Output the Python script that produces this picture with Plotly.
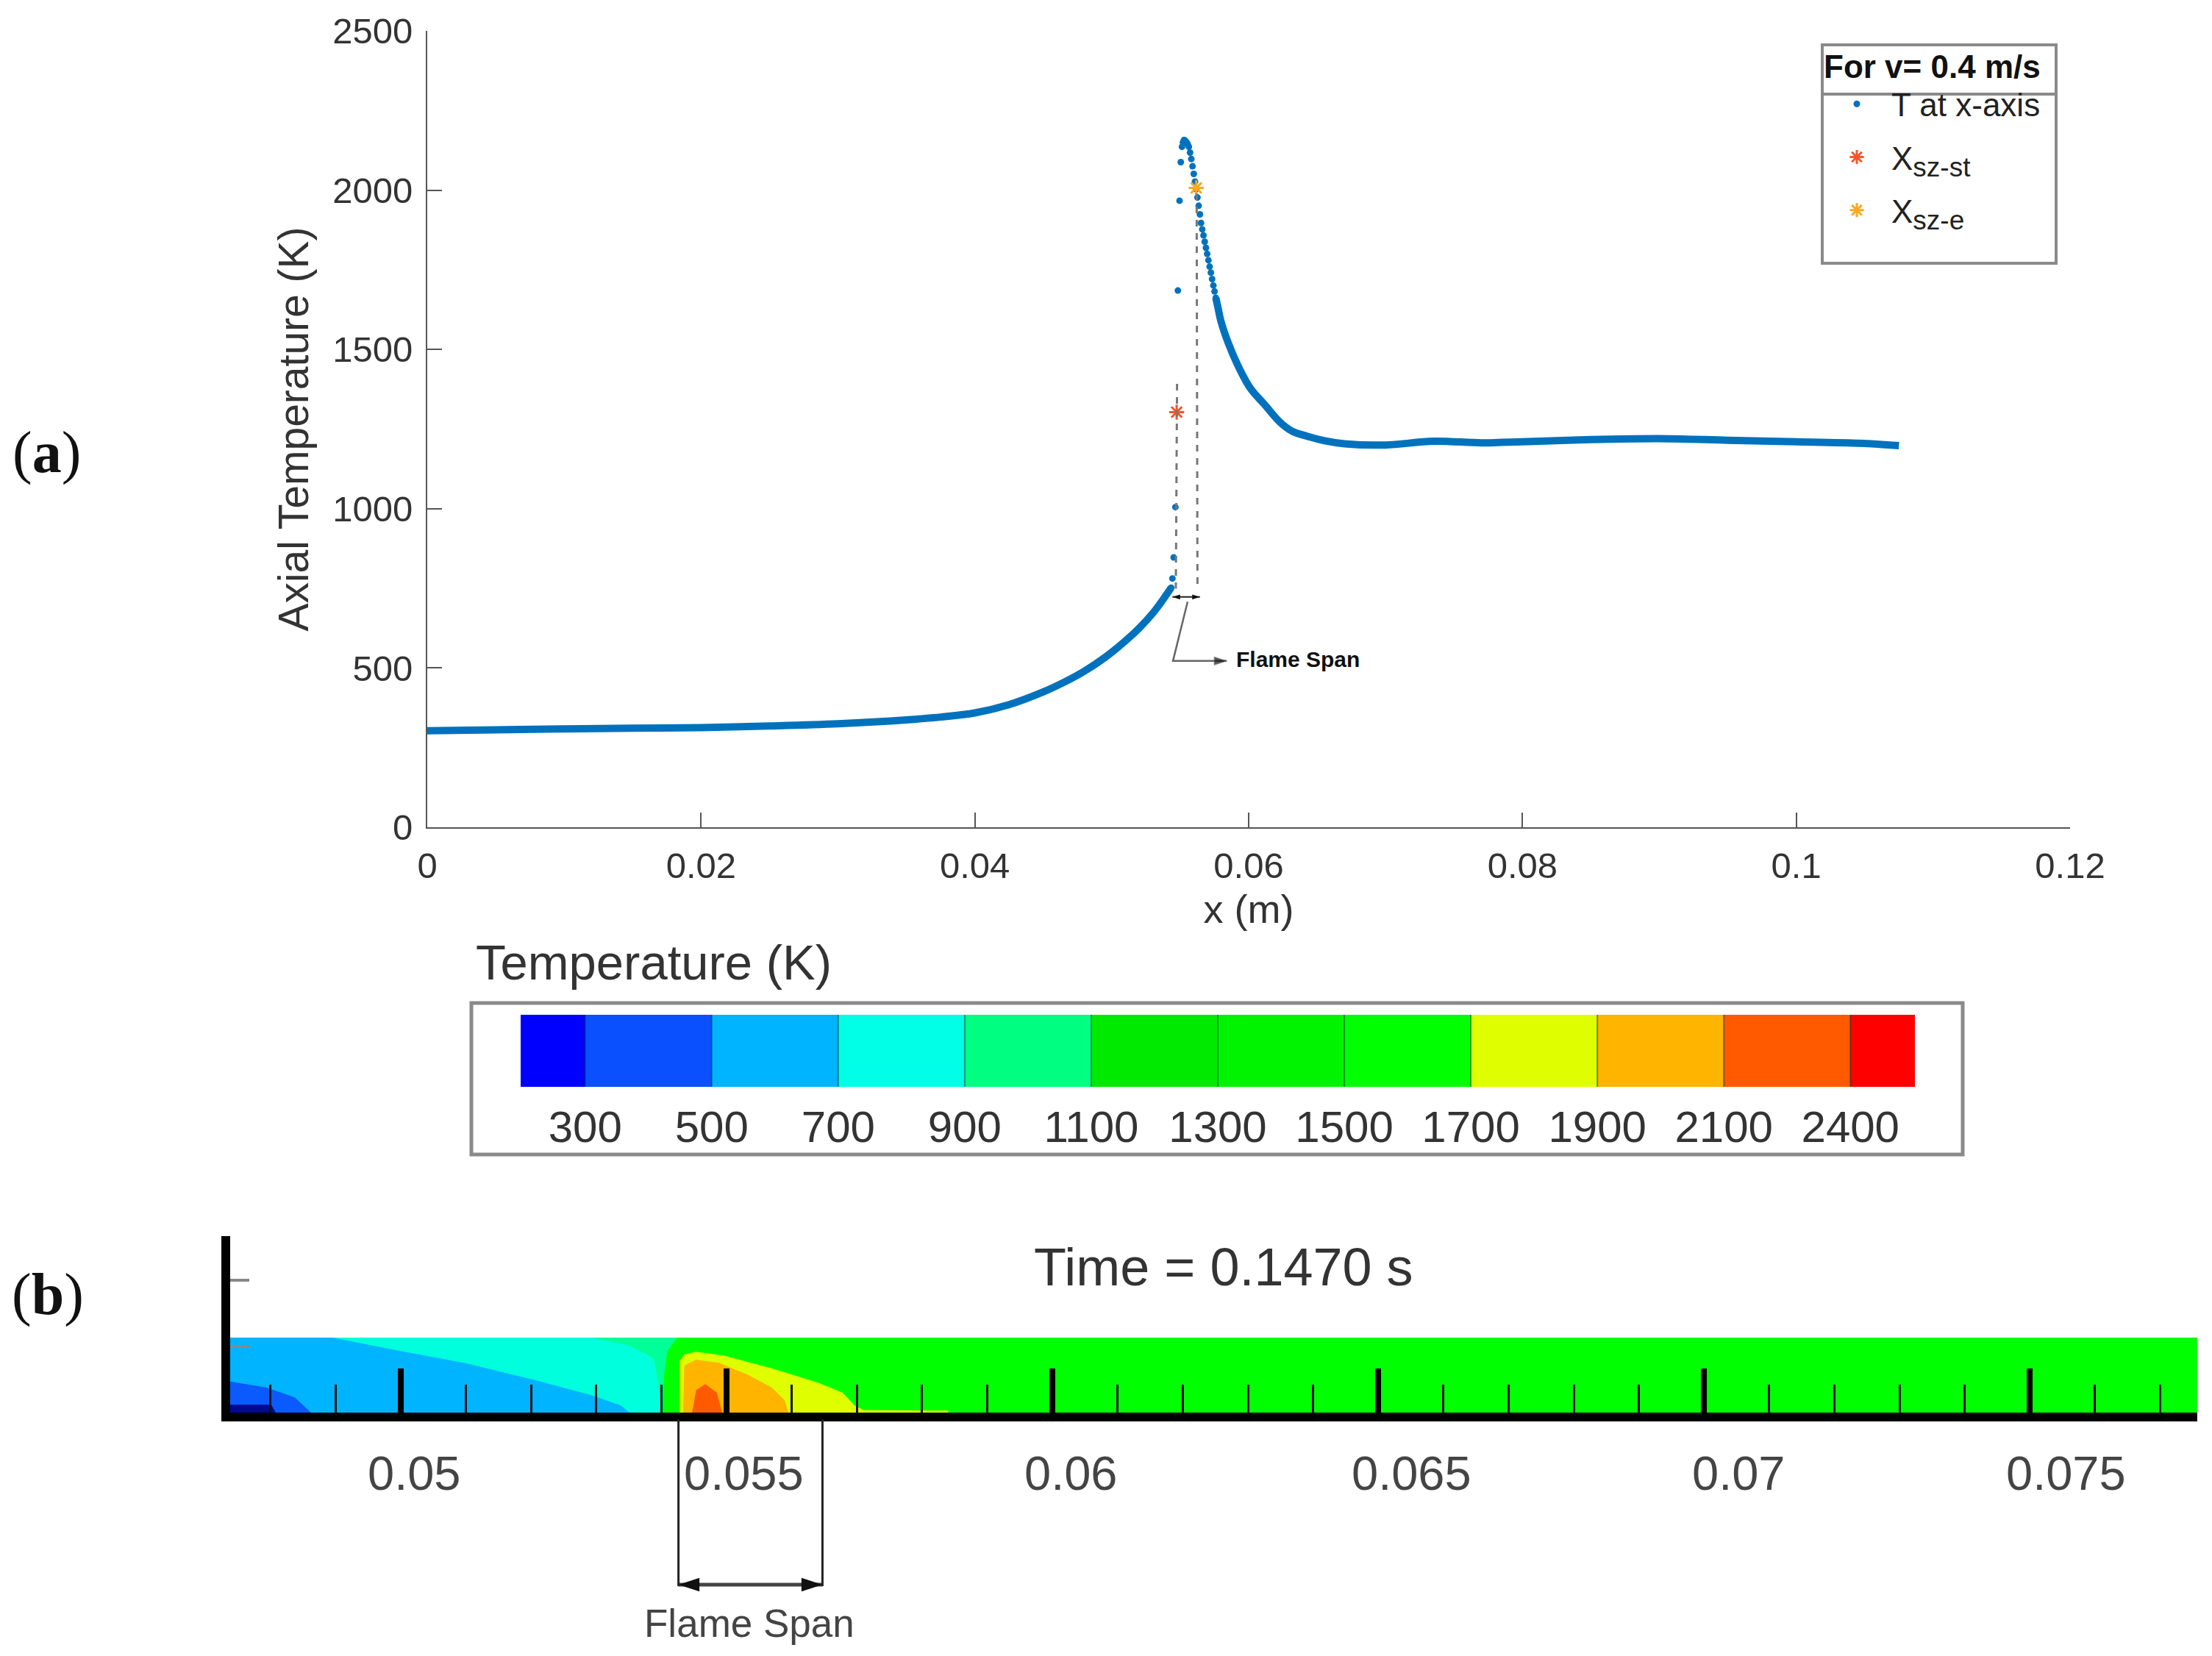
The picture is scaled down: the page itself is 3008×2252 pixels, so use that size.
import plotly.graph_objects as go

W = 3008
H = 2252

# (a) axial temperature
low_x = [0, 0.005, 0.01, 0.015, 0.02, 0.025, 0.03, 0.035, 0.0375, 0.04, 0.0425, 0.045, 0.0465, 0.048, 0.0495, 0.051, 0.052, 0.053, 0.0535, 0.05434]
low_t = [303, 306, 309, 311, 313, 318, 325, 337, 346, 359, 385, 425, 455, 490, 533, 585, 625, 672, 700, 752]
high_x = [0.0576, 0.05778, 0.05796, 0.0585, 0.05921, 0.06011, 0.06118, 0.06226, 0.06315, 0.06423, 0.06548, 0.067, 0.07, 0.0735, 0.077, 0.08, 0.085, 0.09, 0.095, 0.1, 0.105, 0.1075]
high_t = [1662, 1627, 1591, 1521, 1450, 1379, 1326, 1273, 1244, 1228, 1214, 1204, 1200, 1212, 1207, 1210, 1217, 1220, 1215, 1210, 1205, 1198]
dots_x = [0.05434, 0.05443, 0.05452, 0.05465, 0.05483, 0.05495, 0.05504, 0.05513, 0.0552, 0.05527, 0.05536, 0.05545, 0.05554, 0.05563, 0.05572, 0.05581, 0.0559, 0.05599, 0.05608, 0.05617, 0.05626, 0.05635, 0.05644, 0.05652, 0.05661, 0.0567, 0.05679, 0.05688, 0.05697, 0.05706, 0.05715, 0.05724, 0.05733, 0.05742, 0.05751, 0.0576]
dots_t = [752, 781, 847, 1005, 1685, 1967, 2088, 2136, 2150, 2157, 2156, 2151, 2145, 2136, 2118, 2098, 2075, 2051, 2027, 2003, 1977, 1951, 1924, 1897, 1877, 1858, 1838, 1819, 1800, 1780, 1760, 1741, 1721, 1701, 1682, 1662]
sz_st = (0.05474, 1303)
sz_e = (0.05617, 2007)
dash_left_x = [0.05477, 0.05468]
dash_left_t = [1392, 749]
dash_right_x = [0.0562, 0.05626]
dash_right_t = [1990, 749]
span_a_x = [0.05443, 0.05644]
span_a_t = [723, 723]
callout_x = [0.05554, 0.05447, 0.0584]
callout_t = [708, 522, 522]

x_ticks = [0, 0.02, 0.04, 0.06, 0.08, 0.1, 0.12]
x_tick_text = ['0', '0.02', '0.04', '0.06', '0.08', '0.1', '0.12']
t_ticks = [0, 500, 1000, 1500, 2000, 2500]

# colour key
level_labels = ['300', '500', '700', '900', '1100', '1300', '1500', '1700', '1900', '2100', '2400']
level_colors = ['#0000ff', '#0a50ff', '#00b4ff', '#00ffe6', '#00ff80', '#00ea00', '#00f400', '#00ff00', '#dfff00', '#ffb400', '#ff5a00', '#ff0000']

# (b) contour regions, metres along the tube and height units
x_left = 0.04738
x_right = 0.07757
band_top = 1.133
regions = [
    ('#00ff00', [x_left, x_right, x_right, x_left], [0, 0, band_top, band_top]),
    ('#00ff96', [x_left, x_left, 0.05424, 0.05409, 0.05404, 0.05402], [0, band_top, band_top, 0.93, 0.57, 0]),
    ('#00ffdc', [x_left, x_left, 0.05293, 0.05351, 0.05388, 0.05395, 0.05399], [0, band_top, band_top, 1.01, 0.82, 0.45, 0]),
    ('#00b4ff', [x_left, x_left, 0.04895, 0.04989, 0.05098, 0.05207, 0.05293, 0.05337, 0.05351], [0, band_top, band_top, 0.95, 0.75, 0.49, 0.26, 0.11, 0]),
    ('#0a5aff', [x_left, x_left, 0.04793, 0.04837, 0.04862], [0, 0.47, 0.38, 0.23, 0]),
    ('#000a90', [x_left, x_left, 0.04801, 0.04808], [0, 0.12, 0.12, 0]),
    ('#dfff00', [0.05428, 0.05428, 0.05435, 0.05453, 0.05496, 0.05569, 0.05641, 0.05678, 0.05696, 0.0571, 0.0584, 0.0584], [0, 0.78, 0.88, 0.92, 0.86, 0.67, 0.45, 0.3, 0.11, 0.04, 0.03, 0]),
    ('#ffb400', [0.05433, 0.05435, 0.05453, 0.05489, 0.05533, 0.05569, 0.05589, 0.05595], [0, 0.71, 0.8, 0.75, 0.57, 0.38, 0.19, 0]),
    ('#ff5a00', [0.05447, 0.05453, 0.05467, 0.05485, 0.05493], [0, 0.34, 0.43, 0.3, 0]),
]
b_labels = ['0.05', '0.055', '0.06', '0.065', '0.07', '0.075']
b_label_x = [0.05021, 0.05526, 0.06029, 0.06551, 0.07053, 0.07556]
span_b = [0.05426, 0.05647]
span_b_y = [0.5, 0.5]

fig = go.Figure()

fig.add_trace(go.Scatter(x=dots_x, y=dots_t, mode='markers', name='T at x-axis<sub>&nbsp;</sub>', legendgroup='a',
                         marker=dict(color='#0072BD', size=9)))
fig.add_trace(go.Scatter(x=[sz_st[0]], y=[sz_st[1]], mode='markers', name='X<sub><span style="font-size:37px">sz-st</span></sub>', legendgroup='b',
                         marker=dict(symbol='asterisk-open', size=17, color='#F4562A', line=dict(color='#F4562A', width=3))))
fig.add_trace(go.Scatter(x=[sz_e[0]], y=[sz_e[1]], mode='markers', name='X<sub><span style="font-size:37px">sz-e</span></sub>', legendgroup='c',
                         marker=dict(symbol='asterisk-open', size=17, color='#FBA91E', line=dict(color='#FBA91E', width=3))))
fig.add_trace(go.Scatter(x=low_x + [None] + high_x, y=low_t + [None] + high_t, mode='lines', showlegend=False,
                         line=dict(color='#0072BD', width=10, shape='spline')))
for xs, ts in [(dash_left_x, dash_left_t), (dash_right_x, dash_right_t)]:
    fig.add_trace(go.Scatter(x=xs, y=ts, mode='lines', showlegend=False,
                             line=dict(color='#777777', width=3, dash='dash')))
fig.add_trace(go.Scatter(x=callout_x, y=callout_t, mode='lines+markers', showlegend=False,
                         line=dict(color='#666666', width=2.5),
                         marker=dict(symbol='arrow', color='#111111', size=[0, 0, 18], angle=[0, 0, 90])))
fig.add_trace(go.Scatter(x=span_a_x, y=span_a_t, mode='lines+markers', showlegend=False,
                         line=dict(color='#222222', width=2),
                         marker=dict(symbol='arrow', color='#111111', size=11, angle=[270, 90])))

# colour key cells
fig.add_trace(go.Heatmap(z=[list(range(12))], x=[-0.51] + list(range(11)) + [10.51], y=[0, 1],
                         xaxis='x2', yaxis='y2', showscale=False, zmin=0, zmax=11,
                         colorscale=[[v, level_colors[i]] for i in range(12) for v in (i / 12, (i + 1) / 12)]))

# contour regions of panel b
for color, xs, ys in regions:
    fig.add_trace(go.Scatter(x=xs, y=ys, xaxis='x3', yaxis='y3', mode='lines', fill='toself',
                             fillcolor=color, line=dict(width=0), showlegend=False))
fig.add_trace(go.Scatter(x=span_b, y=span_b_y, xaxis='x3', yaxis='y4', mode='lines+markers', showlegend=False,
                         line=dict(color='#444444', width=5),
                         marker=dict(symbol='arrow', color='#111111', size=30, angle=[270, 90])))

notes = [
    dict(text='(<b>a</b>)', x=63 / W, y=1 - 616 / H, xanchor='center', font=dict(family='Liberation Serif', size=80, color='#111111')),
    dict(text='(<b>b</b>)', x=65 / W, y=1 - 1760 / H, xanchor='center', font=dict(family='Liberation Serif', size=80, color='#111111')),
    dict(text='Temperature (K)', x=645 / W, y=1 - 1308 / H, xanchor='left', font=dict(size=67, color='#333333')),
    dict(text='Time = 0.1470 s', x=1664 / W, y=1 - 1723 / H, xanchor='center', font=dict(size=72, color='#333333')),
    dict(text='Flame Span', x=1019 / W, y=1 - 2207 / H, xanchor='center', font=dict(size=53, color='#444444')),
    dict(text='<b>Flame Span</b>', x=1679 / W, y=1 - 896 / H, xanchor='left', font=dict(size=30, color='#111111')),
]
annotations = []
for n in notes:
    annotations.append(dict(xref='paper', yref='paper', showarrow=False, yanchor='middle', **n))
for label, pos in zip(b_labels, b_label_x):
    annotations.append(dict(text=label, x=pos, y=1 - 2003 / H, xref='x3', yref='paper', showarrow=False,
                            xanchor='center', yanchor='middle', font=dict(size=65, color='#444444')))

shapes = [
    dict(type='rect', xref='paper', yref='paper', x0=641 / W, x1=2669 / W, y0=1 - 1570 / H, y1=1 - 1364 / H,
         line=dict(color='#8a8a8a', width=5)),
    # legend frame and the rule under its title
    dict(type='rect', xref='paper', yref='paper', x0=2478 / W, x1=2796 / W, y0=1 - 358 / H, y1=1 - 61 / H,
         line=dict(color='#8a8a8a', width=4)),
    dict(type='line', xref='paper', yref='paper', x0=2478 / W, x1=2796 / W, y0=1 - 128 / H, y1=1 - 128 / H,
         line=dict(color='#8a8a8a', width=4)),
]
for i in range(11):
    shapes.append(dict(type='line', xref='x2', yref='y2', x0=i, x1=i, y0=0, y1=1,
                       line=dict(color='rgba(0,70,60,0.55)', width=2)))
for pos in span_b:
    shapes.append(dict(type='line', xref='x3', yref='paper', x0=pos, x1=pos, y0=1 - 2157 / H, y1=1 - 1930 / H,
                       line=dict(color='#222222', width=3)))

fig.update_layout(
    width=W, height=H, margin=dict(l=0, r=0, t=0, b=0, autoexpand=False),
    paper_bgcolor='white', plot_bgcolor='white',
    font=dict(family='Liberation Sans', size=49, color='#333333'),
    legend=dict(x=2478 / W, y=1 - 49 / H, xanchor='left', yanchor='top', borderwidth=0,
                bgcolor='rgba(0,0,0,0)', itemwidth=84, entrywidth=222, tracegroupgap=12, font=dict(size=44, color='#222222'),
                title=dict(text='<b>For v= 0.4 m/s</b>', font=dict(size=44, color='#111111'))),
    xaxis=dict(domain=[581 / W, 2815 / W], range=[0, 0.12], tickvals=x_ticks, ticktext=x_tick_text,
               ticks='inside', ticklen=20, tickcolor='#555555', tickwidth=2, showgrid=False, zeroline=False,
               showline=True, linecolor='#555555', linewidth=2, ticklabelstandoff=8,
               title=dict(text='x (m)', font=dict(size=54), standoff=14)),
    yaxis=dict(domain=[1 - 1125 / H, 1 - 42 / H], range=[0, 2500], tickvals=t_ticks,
               ticks='inside', ticklen=20, tickcolor='#555555', tickwidth=2, showgrid=False, zeroline=False,
               showline=True, linecolor='#555555', linewidth=2, ticklabelstandoff=8,
               title=dict(text='Axial Temperature (K)', font=dict(size=57), standoff=14)),
    xaxis2=dict(domain=[708 / W, 2604 / W], range=[-0.51, 10.51], anchor='y2', tickvals=list(range(11)),
                ticktext=level_labels, showgrid=False, zeroline=False, ticks='', ticklabelstandoff=14,
                tickfont=dict(size=60, color='#333333')),
    yaxis2=dict(domain=[1 - 1478 / H, 1 - 1380 / H], range=[0, 1], anchor='x2', visible=False),
    xaxis3=dict(domain=[313 / W, 2988 / W], range=[x_left, x_right], anchor='y3', tick0=0.05, dtick=0.005,
                ticks='inside', ticklen=60, tickwidth=8, tickcolor='black', showticklabels=False, showgrid=False,
                zeroline=False, showline=True, linecolor='black', linewidth=12,
                minor=dict(dtick=0.001, tick0=0.05, ticks='inside', ticklen=38, tickwidth=2.5, tickcolor='#111111', showgrid=False)),
    yaxis3=dict(domain=[1 - 1921 / H, 1 - 1681 / H], range=[0, 2.667], anchor='x3', tickvals=[1, 2],
                ticks='inside', ticklen=26, tickwidth=4, tickcolor='#888888', showticklabels=False, showgrid=False,
                zeroline=False, showline=True, linecolor='black', linewidth=12),
    yaxis4=dict(domain=[1 - 2200 / H, 1 - 2110 / H], range=[0, 1], anchor='x3', visible=False),
    annotations=annotations, shapes=shapes,
)

fig.write_html("out.html", config={'displayModeBar': False}, post_script="document.body.style.margin='0';")
